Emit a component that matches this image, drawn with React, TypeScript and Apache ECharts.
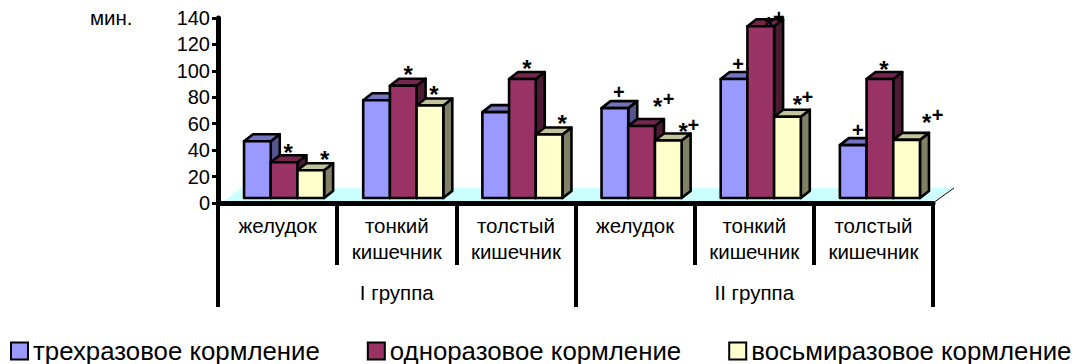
import React, { useEffect, useRef } from "react";
import * as echarts from "echarts";

// Organ labels along the lower axis and the two animal groups beneath them
const organs = ["желудок", "тонкий\nкишечник", "толстый\nкишечник", "желудок", "тонкий\nкишечник", "толстый\nкишечник"];
const groups = ["I группа", "II группа"];
const yTicks = { min: 0, max: 140, step: 20 };

// Time in minutes for each feeding regimen
const threeMeals = [43, 74, 65, 68, 90, 40];
const oneMeal = [27, 85, 90, 54.5, 130, 90];
const eightMeals = [21, 70, 48, 43.5, 61.5, 44];

const feedNames = ["трехразовое кормление", "одноразовое кормление", "восьмиразовое кормление"];
const feedValues = [threeMeals, oneMeal, eightMeals];

// Face colours per regimen: front, top, side
const feedFaces = [
  ["#9999FF", "#7373BF", "#555590"],
  ["#993366", "#74264D", "#4C1A33"],
  ["#FFFFCC", "#C4C49C", "#808066"],
];

// Significance signs: organ index, regimen index, glyph, shift from the bar's top centre
const signOrgan = [0, 0, 1, 1, 2, 2, 3, 3, 3, 3, 3, 4, 4, 4, 4, 4, 5, 5, 5, 5];
const signFeed = [1, 2, 1, 2, 1, 2, 0, 1, 1, 2, 2, 0, 1, 1, 2, 2, 0, 1, 2, 2];
const signGlyph = ["*", "*", "*", "*", "*", "*", "+", "*", "+", "*", "+", "+", "*", "+", "*", "+", "+", "*", "*", "+"];
const signDx = [4, 14, 5, 4, 4.5, 13, 4, 16, 27, 15, 25, 4, 8, 18, 10, 20, 4.5, 4, 20, 31];
const signDy = [-12, -13, -13, -13, -13, -13, -16, -21, -27, -11, -16, -15, -3, -9, -14, -20, -15, -12, -19, -25];

const FONT = "'Liberation Sans', Arial, sans-serif";
const LABEL_SIZE = 20.5;
const BAR_RATIO = 0.224;
const GROUP_SHIFT = 6.5;
const FLOOR_LIFT = 5;
const DEPTH_X = 9;
const DEPTH_Y = 7;

function barBox(api: any, organ: number, feed: number, value: number) {
  const band = api.size([1, 0])[0];
  const w = band * BAR_RATIO;
  const cx = api.coord([organ, 0])[0] + GROUP_SHIFT;
  const left = cx - 1.5 * w + feed * w;
  const base = api.coord([organ, 0])[1] - FLOOR_LIFT;
  const top = api.coord([organ, value])[1] - FLOOR_LIFT;
  return { left, right: left + w, top, base, w };
}

function feedSeries(feed: number) {
  const faces = feedFaces[feed];
  return {
    type: "custom",
    name: feedNames[feed],
    xAxisIndex: 0,
    yAxisIndex: 0,
    z: 3 + feed,
    clip: false,
    itemStyle: { color: faces[0], borderColor: "#000", borderWidth: 2.5 },
    encode: { x: 0, y: 1 },
    data: feedValues[feed].map((v, i) => [i, v]),
    renderItem: (_p: any, api: any) => {
      const b = barBox(api, api.value(0), feed, api.value(1));
      const line = { stroke: "#000", lineWidth: 2.6, lineJoin: "round" };
      return {
        type: "group",
        children: [
          {
            type: "polygon",
            shape: { points: [[b.right, b.base], [b.right, b.top], [b.right + DEPTH_X, b.top - DEPTH_Y], [b.right + DEPTH_X, b.base - DEPTH_Y]] },
            style: { fill: faces[2], ...line },
          },
          {
            type: "polygon",
            shape: { points: [[b.left, b.top], [b.left + DEPTH_X, b.top - DEPTH_Y], [b.right + DEPTH_X, b.top - DEPTH_Y], [b.right, b.top]] },
            style: { fill: faces[1], ...line },
          },
          {
            type: "rect",
            shape: { x: b.left, y: b.top, width: b.w, height: b.base - b.top },
            style: { fill: faces[0], ...line },
          },
        ],
      };
    },
  };
}

export default function App() {
  const ref = useRef<HTMLDivElement>(null);

  useEffect(() => {
    const chart = echarts.init(ref.current!, null, { renderer: "svg" });
    chart.setOption({
      animation: false,
      textStyle: { fontFamily: FONT },
      grid: { left: 218, top: 18, width: 715, height: 185 },
      xAxis: [
        {
          type: "category",
          position: "bottom",
          z: 20,
          data: organs,
          axisLine: { show: true, lineStyle: { color: "#000", width: 5 } },
          axisTick: { show: true, interval: 0, length: 62, lineStyle: { color: "#000", width: 4 } },
          axisLabel: { color: "#000", fontSize: LABEL_SIZE, lineHeight: 26, margin: 9, interval: 0, fontFamily: FONT },
        },
        {
          type: "category",
          position: "bottom",
          offset: 0,
          z: 20,
          data: groups,
          axisLine: { show: false },
          axisTick: { show: true, interval: 0, length: 104, lineStyle: { color: "#000", width: 4 } },
          axisLabel: { color: "#000", fontSize: LABEL_SIZE, margin: 79, interval: 0, fontFamily: FONT },
        },
      ],
      yAxis: {
        type: "value",
        z: 20,
        min: yTicks.min,
        max: yTicks.max,
        interval: yTicks.step,
        splitLine: { show: false },
        axisLine: { show: true, lineStyle: { color: "#000", width: 5 } },
        axisTick: { show: true, length: 6, lineStyle: { color: "#000", width: 3 } },
        axisLabel: { color: "#000", fontSize: 20, margin: 8, fontFamily: FONT },
      },
      legend: {
        left: 10,
        top: 338,
        itemWidth: 17,
        itemHeight: 17,
        itemGap: 47,
        icon: "rect",
        padding: 0,
        data: feedNames,
        selectedMode: false,
        textStyle: { color: "#000", fontSize: 25.8, fontFamily: FONT, padding: [0, 0, 0, 0] },
      },
      graphic: [
        { type: "text", x: 90, y: 7, style: { text: "мин.", fill: "#000", fontSize: 20.5, fontFamily: FONT } },
      ],
      series: [
        {
          // Pale floor of the plot, with its thin right edge receding from the axis end
          type: "custom",
          name: "floor",
          z: 1,
          clip: false,
          silent: true,
          encode: { x: 0, y: 1 },
          data: [[0, 0]],
          renderItem: (p: any) => {
            const g = p.coordSys;
            const y0 = g.y + g.height;
            return {
              type: "group",
              children: [
                {
                  type: "polygon",
                  shape: { points: [[g.x + 6, y0 - 2], [g.x + 23, y0 - 15], [g.x + g.width + 20, y0 - 15], [g.x + g.width, y0 - 2]] },
                  style: { fill: "#CCFFFF" },
                },
                {
                  type: "line",
                  shape: { x1: g.x + g.width, y1: y0, x2: g.x + g.width + 21, y2: y0 - 15 },
                  style: { stroke: "#000", lineWidth: 1 },
                },
              ],
            };
          },
        },
        feedSeries(0),
        feedSeries(1),
        feedSeries(2),
        {
          type: "custom",
          name: "signs",
          z: 10,
          clip: false,
          silent: true,
          encode: { x: 0, y: 1 },
          data: signOrgan.map((o, i) => [o, feedValues[signFeed[i]][o]]),
          renderItem: (p: any, api: any) => {
            const i = p.dataIndex;
            const b = barBox(api, api.value(0), signFeed[i], api.value(1));
            const star = signGlyph[i] === "*";
            return {
              type: "text",
              x: (b.left + b.right) / 2 + signDx[i],
              y: b.top + signDy[i] + (star ? 2 : 0),
              style: {
                text: signGlyph[i],
                fill: "#000",
                fontFamily: FONT,
                fontSize: star ? 24 : 20,
                fontWeight: "bold",
                align: "center",
                verticalAlign: "middle",
              },
            };
          },
        },
      ],
    });
    return () => chart.dispose();
  }, []);

  return <div ref={ref} style={{ position: "absolute", left: 0, top: 0, width: 1077, height: 364 }} />;
}
